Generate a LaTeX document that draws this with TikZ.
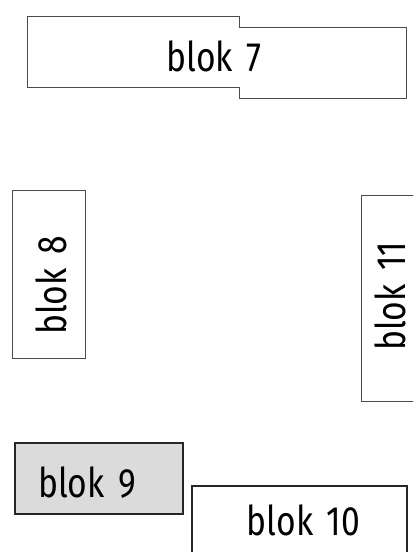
\documentclass[tikz,border=0pt]{standalone}
\usepackage{fontspec}
\setmainfont[FakeStretch=0.82, WordSpace=1.5]{Fira Sans}
\begin{document}
\begin{tikzpicture}[x=1pt,y=-1pt]
\tikzset{
  lbl/.style={font=\fontsize{41}{48}\selectfont, inner sep=0pt, text=black},
  lightbox/.style={draw=black!70, line width=1pt},
  darkbox/.style={draw=black!85, line width=1.2pt}
}
\useasboundingbox (0,0) rectangle (413,552);
\clip (0,0) rectangle (413,552);
% blok 7
\draw[lightbox] (27,16) -- (239,16) -- (239,27) -- (406,27) -- (406,98) -- (239,98) -- (239,87) -- (27,87) -- cycle;
\node[lbl, anchor=base] (b7) at (214,71.7) {blok 7};
% blok 8
\draw[lightbox] (12,190) rectangle (85,358);
\node[lbl, anchor=base, rotate=90] (b8) at (66.7,285.5) {blok 8};
% blok 11
\draw[lightbox] (361,195) rectangle (425,401);
\node[lbl, anchor=base, rotate=90] (b11) at (405,296.5) {blok 11};
% blok 9
\draw[darkbox, fill=black!14] (15,443) rectangle (183,514);
\node[lbl, anchor=base] (b9) at (87,497) {blok 9};
% blok 10
\draw[darkbox] (192,486) rectangle (407,570);
\node[lbl, anchor=base] (b10) at (303.5,535) {blok 10};
\end{tikzpicture}
\end{document}
